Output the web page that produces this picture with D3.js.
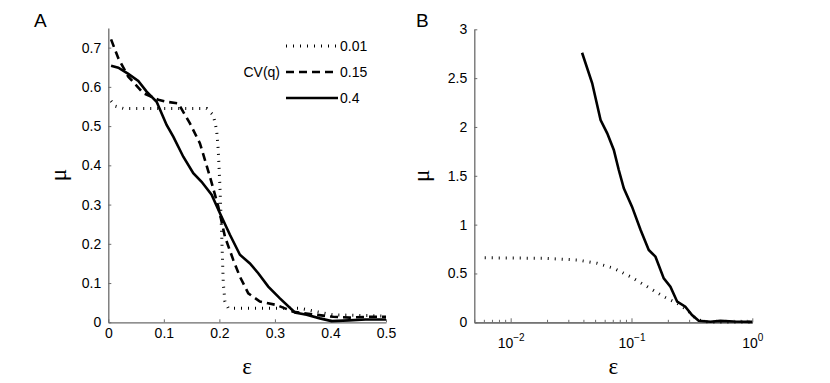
<!DOCTYPE html>
<html>
<head>
<meta charset="utf-8">
<script src="https://cdn.jsdelivr.net/npm/d3@7"></script>
<style>
  body { margin: 0; background: #fff; }
  text { font-family: "Liberation Sans", Arial, sans-serif; fill: #000; }
  .greek { font-family: "Liberation Serif", "DejaVu Serif", serif; }
</style>
</head>
<body>
<svg id="chart" width="830" height="383"></svg>
<script>
// panel A: mu vs epsilon for three CV(q) values
const cvLabels = ["0.01", "0.15", "0.4"];

const epsA_01 = [0.005, 0.012, 0.027, 0.177, 0.189, 0.195, 0.198, 0.201, 0.204, 0.207, 0.210, 0.216, 0.345, 0.375, 0.405, 0.5];
const muA_01  = [0.564, 0.551, 0.545, 0.545, 0.528, 0.490, 0.439, 0.346, 0.228, 0.100, 0.053, 0.036, 0.036, 0.027, 0.019, 0.016];

const epsA_15 = [0.005, 0.018, 0.036, 0.063, 0.090, 0.105, 0.126, 0.147, 0.165, 0.183, 0.198, 0.210, 0.225, 0.237, 0.252, 0.273, 0.303, 0.333, 0.375, 0.405, 0.435, 0.465, 0.5];
const muA_15  = [0.721, 0.673, 0.626, 0.584, 0.567, 0.562, 0.558, 0.507, 0.456, 0.371, 0.295, 0.218, 0.159, 0.116, 0.074, 0.053, 0.044, 0.027, 0.019, 0.014, 0.012, 0.014, 0.014];

const epsA_4 = [0.005, 0.018, 0.036, 0.054, 0.069, 0.087, 0.105, 0.117, 0.135, 0.153, 0.168, 0.186, 0.201, 0.219, 0.237, 0.255, 0.270, 0.288, 0.309, 0.336, 0.357, 0.381, 0.402, 0.433, 0.463, 0.5];
const muA_4  = [0.654, 0.649, 0.633, 0.615, 0.588, 0.562, 0.503, 0.473, 0.422, 0.380, 0.358, 0.325, 0.278, 0.223, 0.172, 0.150, 0.125, 0.091, 0.061, 0.025, 0.019, 0.010, 0.003, 0.005, 0.007, 0.007];

// panel B: log epsilon axis
const epsB_01 = [0.0061, 0.0188, 0.0356, 0.052, 0.0714, 0.098, 0.135, 0.185, 0.239, 0.289, 0.338, 0.396, 0.5, 0.7, 1.0];
const muB_01  = [0.661, 0.655, 0.638, 0.604, 0.553, 0.467, 0.365, 0.262, 0.194, 0.126, 0.041, 0.006, 0.003, 0.002, 0.002];

const epsB_4 = [0.039, 0.0473, 0.0555, 0.063, 0.0714, 0.0785, 0.0864, 0.101, 0.119, 0.139, 0.158, 0.185, 0.210, 0.239, 0.279, 0.317, 0.360, 0.45, 0.544, 0.70, 1.0];
const muB_4  = [2.76, 2.447, 2.071, 1.935, 1.764, 1.559, 1.372, 1.184, 0.945, 0.740, 0.672, 0.450, 0.365, 0.211, 0.160, 0.075, 0.016, 0.005, 0.015, 0.008, 0.004];

const yTicksA = [0, 0.1, 0.2, 0.3, 0.4, 0.5, 0.6, 0.7];
const xTicksA = [0, 0.1, 0.2, 0.3, 0.4, 0.5];
const yTicksB = [0, 0.5, 1, 1.5, 2, 2.5, 3];
const xTicksB = [0.01, 0.1, 1];
const expLabels = ["\u22122", "\u22121", "0"];

const svg = d3.select("#chart");
const axisColor = "#6b6b6b";

const styles = {
  "0.01": { width: 3, dash: "1,6" },
  "0.15": { width: 2.6, dash: "8,5" },
  "0.4":  { width: 2.6, dash: null }
};

function drawLine(g, xs, ys, x, y, key) {
  const pts = xs.map((d, i) => [d, ys[i]]);
  const st = styles[key];
  g.append("path")
    .datum(pts)
    .attr("fill", "none")
    .attr("stroke", "#000")
    .attr("stroke-width", st.width)
    .attr("stroke-dasharray", st.dash)
    .attr("d", d3.line().x(d => x(d[0])).y(d => y(d[1])));
}

function styleAxis(g) {
  g.select(".domain").attr("stroke", axisColor).attr("stroke-width", 1.3);
  g.selectAll(".tick line").attr("stroke", axisColor);
  g.selectAll(".tick text").style("font-size", "14px").attr("fill", "#000");
}

// ---------- Panel A ----------
const xA = d3.scaleLinear().domain([0, 0.5]).range([108.3, 386]);
const yA = d3.scaleLinear().domain([0, 0.75]).range([322.3, 28]);

const gA = svg.append("g");

gA.append("g")
  .attr("transform", `translate(0,${yA(0)})`)
  .call(d3.axisBottom(xA).tickValues(xTicksA).tickFormat(d3.format("")).tickSizeInner(-3).tickSizeOuter(0).tickPadding(6))
  .call(styleAxis);

gA.append("g")
  .attr("transform", `translate(${xA(0)},0)`)
  .call(d3.axisLeft(yA).tickValues(yTicksA).tickFormat(d3.format("")).tickSizeInner(-3).tickSizeOuter(0).tickPadding(7))
  .call(styleAxis);

drawLine(gA, epsA_01, muA_01, xA, yA, "0.01");
drawLine(gA, epsA_15, muA_15, xA, yA, "0.15");
drawLine(gA, epsA_4, muA_4, xA, yA, "0.4");

gA.append("text").attr("x", 34).attr("y", 27).style("font-size", "19px").text("A");
gA.append("text").attr("class", "greek")
  .attr("x", (xA.range()[0] + xA.range()[1]) / 2).attr("y", 374)
  .attr("text-anchor", "middle").style("font-size", "23px").text("\u03b5");
gA.append("text").attr("class", "greek")
  .attr("transform", `translate(66,${yA(0.375)}) rotate(-90)`)
  .attr("text-anchor", "middle").style("font-size", "23px").text("\u03bc");

// legend
const legend = gA.append("g").attr("transform", "translate(286,46)");
cvLabels.forEach((lab, i) => {
  const st = styles[lab];
  legend.append("line")
    .attr("x1", 0).attr("x2", 52)
    .attr("y1", i * 26).attr("y2", i * 26)
    .attr("stroke", "#000")
    .attr("stroke-width", st.width)
    .attr("stroke-dasharray", st.dash);
  legend.append("text")
    .attr("x", 54).attr("y", i * 26 + 5)
    .style("font-size", "14px").text(lab);
});
legend.append("text")
  .attr("x", -6).attr("y", 26 + 5)
  .attr("text-anchor", "end")
  .style("font-size", "14px").text("CV(q)");

// ---------- Panel B ----------
const xB = d3.scaleLog().domain([0.005, 1]).range([474.3, 752.3]);
const yB = d3.scaleLinear().domain([0, 3]).range([322.3, 29.3]);

const gB = svg.append("g");

// minor log ticks
const minorB = [];
[0.001, 0.01, 0.1].forEach(dec => {
  for (let k = 2; k <= 9; k++) {
    const v = dec * k;
    if (v >= 0.005 && v <= 1) minorB.push(v);
  }
});
gB.append("g")
  .attr("transform", `translate(0,${yB(0)})`)
  .call(d3.axisBottom(xB).tickValues(minorB).tickFormat("").tickSizeInner(-2.5).tickSizeOuter(0))
  .call(styleAxis);

const xAxisB = gB.append("g")
  .attr("transform", `translate(0,${yB(0)})`)
  .call(d3.axisBottom(xB).tickValues(xTicksB).tickFormat("").tickSizeInner(-4).tickSizeOuter(0))
  .call(styleAxis);

xAxisB.selectAll(".tick").each(function(d, i) {
  const t = d3.select(this).append("text")
    .attr("y", 26)
    .attr("text-anchor", "middle")
    .style("font-size", "14px")
    .attr("fill", "#000");
  t.append("tspan").text("10");
  t.append("tspan").attr("dy", -7).style("font-size", "10px").text(expLabels[i]);
});

gB.append("g")
  .attr("transform", `translate(${xB.range()[0]},0)`)
  .call(d3.axisLeft(yB).tickValues(yTicksB).tickFormat(d3.format("")).tickSizeInner(-3).tickSizeOuter(0).tickPadding(7))
  .call(styleAxis);

drawLine(gB, epsB_01, muB_01, xB, yB, "0.01");
drawLine(gB, epsB_4, muB_4, xB, yB, "0.4");

gB.append("text").attr("x", 416).attr("y", 27).style("font-size", "19px").text("B");
gB.append("text").attr("class", "greek")
  .attr("x", (xB.range()[0] + xB.range()[1]) / 2).attr("y", 374)
  .attr("text-anchor", "middle").style("font-size", "23px").text("\u03b5");
gB.append("text").attr("class", "greek")
  .attr("transform", `translate(429,${yB(1.5)}) rotate(-90)`)
  .attr("text-anchor", "middle").style("font-size", "23px").text("\u03bc");
</script>
</body>
</html>
